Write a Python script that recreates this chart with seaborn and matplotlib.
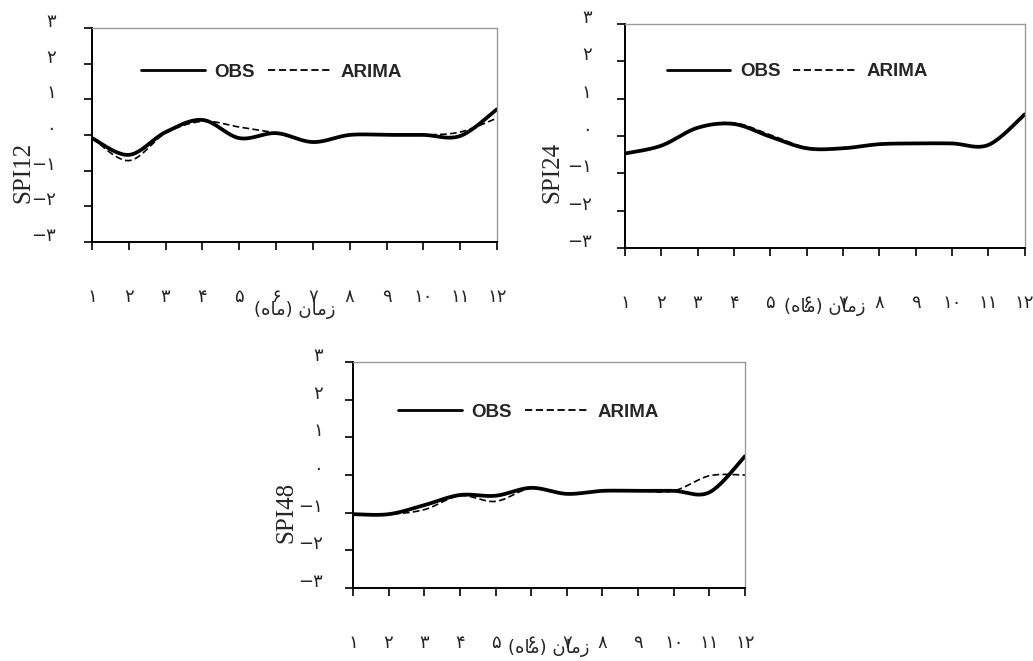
import numpy as np
import pandas as pd
import matplotlib
matplotlib.use("Agg")
import matplotlib.pyplot as plt
import matplotlib.transforms as mtransforms
from matplotlib.lines import Line2D
import seaborn as sns

# ---- data -------------------------------------------------------------
months = list(range(1, 13))

spi12_obs = [-0.09, -0.56, 0.08, 0.42, -0.09, 0.05, -0.20, 0.00, 0.00, 0.00, -0.03, 0.72]
spi12_arima = [-0.09, -0.72, 0.05, 0.38, 0.22, 0.05, -0.20, 0.00, 0.00, 0.00, 0.08, 0.47]

spi24_obs = [-0.47, -0.26, 0.22, 0.32, -0.02, -0.33, -0.33, -0.22, -0.20, -0.20, -0.24, 0.58]
spi24_arima = [-0.47, -0.26, 0.22, 0.35, 0.03, -0.31, -0.33, -0.22, -0.20, -0.20, -0.24, 0.58]

spi48_obs = [-1.04, -1.04, -0.80, -0.53, -0.55, -0.34, -0.50, -0.42, -0.42, -0.42, -0.46, 0.50]
spi48_arima = [-1.04, -1.04, -0.92, -0.55, -0.70, -0.35, -0.50, -0.42, -0.42, -0.42, -0.02, 0.00]

panel_titles = ["SPI12", "SPI24", "SPI48"]
series_names = ["OBS", "ARIMA"]

month_labels = ["۱", "۲", "۳", "۴", "۵", "۶", "۷", "۸", "۹", "۱۰", "۱۱", "۱۲"]
y_ticks = [-3, -2, -1, 0, 1, 2, 3]
y_labels = ["−۳", "−۲", "−۱", "۰", "۱", "۲", "۳"]
# "زمان (ماه)" as shaped presentation forms in visual order
# (matplotlib does no Arabic shaping or bidi reordering itself)
x_title = "(\uFEE9\uFE8E\uFEE3) \uFEE5\uFE8E\uFEE3\uFEAF"

# ---- styling -----------------------------------------------------------
sns.set_theme(style="ticks")
plt.rcParams["font.family"] = ["DejaVu Sans"]


def smooth_curve(x, y, n=40):
    """Bezier-smoothed path through the points (spreadsheet-style smoothing)."""
    pts = np.column_stack([x, y]).astype(float)
    m = len(pts)
    out = []
    t = np.linspace(0, 1, n)[:, None]
    for i in range(m - 1):
        p0 = pts[i - 1] if i > 0 else pts[i]
        p3 = pts[i + 2] if i + 2 < m else pts[i + 1]
        c1 = pts[i] + (pts[i + 1] - p0) / 6.0
        c2 = pts[i + 1] - (p3 - pts[i]) / 6.0
        seg = ((1 - t) ** 3) * pts[i] + 3 * ((1 - t) ** 2) * t * c1 \
            + 3 * (1 - t) * t ** 2 * c2 + t ** 3 * pts[i + 1]
        out.append(seg if i == 0 else seg[1:])
    path = np.vstack(out)
    return pd.DataFrame({"x": path[:, 0], "y": path[:, 1]})


fig = plt.figure(figsize=(10.33, 6.61), dpi=100)

# axes rectangles [left, bottom, width, height] in figure fractions
rects = [
    [0.0891, 0.634, 0.392, 0.3238],
    [0.6050, 0.6248, 0.387, 0.339],
    [0.3417, 0.1104, 0.3795, 0.3419],
]
legend_anchor = [(0.443, 0.794), (0.431, 0.786), (0.448, 0.779)]
ylabel_pos = [(-0.170, 0.327), (-0.1825, 0.339), (-0.171, 0.336)]
ytick_pad = [20.0, 18.0, 15.5]
xtitle_y = [-0.318, -0.263, -0.265]

series = [(spi12_obs, spi12_arima), (spi24_obs, spi24_arima), (spi48_obs, spi48_arima)]

for k, (obs, arima) in enumerate(series):
    ax = fig.add_axes(rects[k])

    obs_df = smooth_curve(months, obs)
    arima_df = smooth_curve(months, arima)
    sns.lineplot(data=obs_df, x="x", y="y", sort=False, estimator=None,
                 color="black", linewidth=2.7, ax=ax, solid_capstyle="round")
    sns.lineplot(data=arima_df, x="x", y="y", sort=False, estimator=None,
                 color="black", linewidth=1.2, linestyle=(0, (4, 2)), ax=ax)

    ax.set_xlim(1, 12)
    ax.set_ylim(-3, 3)
    ax.set_xticks(months)
    ax.set_xticklabels(month_labels, fontsize=13)
    ax.set_yticks(y_ticks)
    ax.set_yticklabels(y_labels, fontsize=13)
    ax.set_xlabel("")
    ax.set_ylabel("")

    ax.tick_params(axis="x", direction="out", length=6, width=1.2, color="black",
                   pad=27, bottom=True, top=False)
    ax.tick_params(axis="y", direction="out", length=6, width=1.2, color="black",
                   pad=ytick_pad[k], left=True, right=False)
    shift = mtransforms.ScaledTranslation(0, 8 / 100, fig.dpi_scale_trans)
    for lab in ax.get_yticklabels():
        lab.set_transform(lab.get_transform() + shift)

    for side in ("left", "bottom"):
        ax.spines[side].set_color("black")
        ax.spines[side].set_linewidth(1.4)
    for side in ("top", "right"):
        ax.spines[side].set_visible(True)
        ax.spines[side].set_color("#9a9a9a")
        ax.spines[side].set_linewidth(1.0)

    handles = [Line2D([], [], color="black", linewidth=2.0),
               Line2D([], [], color="black", linewidth=1.3, linestyle=(0, (4, 2)))]
    ax.legend(handles, series_names, ncol=2, frameon=False, loc="center",
              bbox_to_anchor=legend_anchor[k], handlelength=3.4, handletextpad=0.5,
              columnspacing=0.7, prop={"family": "Liberation Sans", "weight": "bold",
                                       "size": 13.5})

    ax.text(ylabel_pos[k][0], ylabel_pos[k][1], panel_titles[k], rotation=90,
            transform=ax.transAxes, ha="center", va="center",
            fontsize=18, family="Liberation Serif")

    ax.text(6.5, xtitle_y[k], x_title, transform=ax.get_xaxis_transform(),
            ha="center", va="center", fontsize=13, family="DejaVu Sans")

fig.savefig("out.png", dpi=100, facecolor="white")
